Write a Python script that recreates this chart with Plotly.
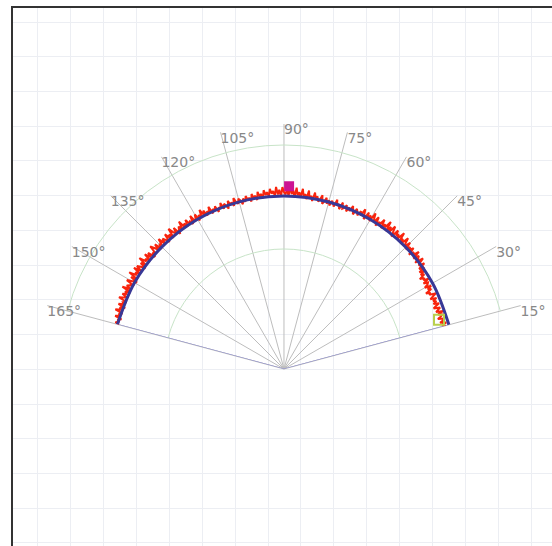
import numpy as np
import plotly.graph_objects as go

# --- data -------------------------------------------------------------
# noisy measured radius, sampled every 0.5 degree from 15 to 165
noisy_r = [
    0.728, 0.712, 0.735, 0.706, 0.722, 0.731, 0.701, 0.719, 0.727, 0.709, 0.738, 0.704, 0.716, 0.730, 0.699, 0.714, 0.733, 0.707, 0.725, 0.711,
    0.732, 0.703, 0.720, 0.739, 0.708, 0.717, 0.696, 0.729, 0.713, 0.736, 0.705, 0.724, 0.731, 0.710, 0.742, 0.718, 0.727, 0.706, 0.737, 0.721,
    0.745, 0.723, 0.756, 0.731, 0.768, 0.740, 0.752, 0.777, 0.735, 0.760, 0.769, 0.741, 0.782, 0.750, 0.763, 0.738, 0.775, 0.754, 0.766, 0.744,
    0.781, 0.752, 0.764, 0.790, 0.746, 0.770, 0.758, 0.795, 0.749, 0.773, 0.761, 0.786, 0.743, 0.767, 0.792, 0.755, 0.778, 0.747, 0.797, 0.760,
    0.772, 0.745, 0.788, 0.757, 0.766, 0.741, 0.783, 0.753, 0.764, 0.791, 0.744, 0.771, 0.750, 0.779, 0.739, 0.759, 0.785, 0.748, 0.768, 0.742,
    0.758, 0.769, 0.737, 0.756, 0.774, 0.745, 0.761, 0.738, 0.767, 0.750, 0.743, 0.772, 0.736, 0.759, 0.748, 0.776, 0.740, 0.754, 0.764, 0.739,
    0.763, 0.744, 0.771, 0.750, 0.738, 0.779, 0.756, 0.745, 0.768, 0.758, 0.784, 0.742, 0.766, 0.752, 0.789, 0.747, 0.770, 0.757, 0.794, 0.751,
    0.776, 0.760, 0.797, 0.750, 0.783, 0.765, 0.801, 0.755, 0.789, 0.762, 0.774, 0.798, 0.752, 0.785, 0.763, 0.799, 0.757, 0.780, 0.768, 0.792,
    0.756, 0.777, 0.764, 0.788, 0.750, 0.772, 0.759, 0.784, 0.746, 0.768, 0.757, 0.779, 0.743, 0.763, 0.754, 0.775, 0.748, 0.766, 0.740, 0.760,
    0.771, 0.747, 0.758, 0.780, 0.743, 0.763, 0.752, 0.776, 0.739, 0.757, 0.768, 0.746, 0.778, 0.751, 0.761, 0.741, 0.773, 0.755, 0.765, 0.745,
    0.783, 0.753, 0.767, 0.747, 0.777, 0.758, 0.789, 0.750, 0.770, 0.744, 0.781, 0.759, 0.752, 0.786, 0.746, 0.764, 0.757, 0.782, 0.749, 0.771,
    0.758, 0.793, 0.751, 0.775, 0.762, 0.742, 0.784, 0.756, 0.768, 0.796, 0.748, 0.773, 0.759, 0.787, 0.745, 0.765, 0.779, 0.752, 0.791, 0.761,
    0.771, 0.748, 0.785, 0.757, 0.776, 0.795, 0.753, 0.767, 0.744, 0.782, 0.760, 0.790, 0.750, 0.774, 0.763, 0.799, 0.755, 0.780, 0.746, 0.769,
    0.786, 0.757, 0.793, 0.751, 0.775, 0.763, 0.800, 0.754, 0.781, 0.743, 0.770, 0.791, 0.748, 0.766, 0.779, 0.756, 0.795, 0.747, 0.773, 0.760,
    0.780, 0.752, 0.768, 0.788, 0.745, 0.762, 0.755, 0.778, 0.741, 0.766, 0.757, 0.783, 0.744, 0.761, 0.750, 0.774, 0.740, 0.758, 0.747, 0.764,
    0.745,
]
noisy_theta = np.linspace(15, 165, len(noisy_r))

# smoothed fit, every 15 degrees
fit_theta = [15, 30, 45, 60, 75, 90, 105, 120, 135, 150, 165]
fit_r = [0.744, 0.748, 0.751, 0.753, 0.754, 0.755, 0.755, 0.754, 0.753, 0.753, 0.752]

# highlighted points
peak_theta, peak_r = [88.4], [0.802]
low_theta, low_r = [17.6], [0.705]

angle_ticks = [15, 30, 45, 60, 75, 90, 105, 120, 135, 150, 165]
angle_labels = [f"{a}°" for a in angle_ticks]

RADIAL_RANGE = [-0.077, 1.101]
RADIAL_GRID = [0.5, 1.0]

fig = go.Figure()

# empty cartesian trace so the background grid paper is drawn
fig.add_trace(go.Scatter(x=[], y=[], showlegend=False, hoverinfo="skip"))

# radial edges joining the fit to the origin
fig.add_trace(go.Scatterpolar(
    r=[fit_r[0], RADIAL_RANGE[0], fit_r[-1]],
    theta=[fit_theta[0], fit_theta[0], fit_theta[-1]],
    mode="lines", line=dict(color="#8c8cd2", width=1),
    showlegend=False, hoverinfo="skip",
))

fig.add_trace(go.Scatterpolar(
    r=noisy_r, theta=noisy_theta, mode="lines",
    line=dict(color="#f8240d", width=2),
    showlegend=False,
))

fig.add_trace(go.Scatterpolar(
    r=fit_r, theta=fit_theta, mode="lines",
    line=dict(color="#383896", width=3, shape="spline"),
    showlegend=False,
))

fig.add_trace(go.Scatterpolar(
    r=peak_r, theta=peak_theta, mode="markers",
    marker=dict(symbol="square", size=10, color="#cc1493"),
    showlegend=False,
))
fig.add_trace(go.Scatterpolar(
    r=low_r, theta=low_theta, mode="markers",
    marker=dict(symbol="square-open", size=10, color="#b9cf4c",
                line=dict(width=2)),
    showlegend=False,
))

# angle labels placed at the outer end of each spoke
fig.add_trace(go.Scatterpolar(
    r=[RADIAL_RANGE[1]] * len(angle_ticks), theta=angle_ticks,
    mode="text", text=angle_labels, textposition="bottom right",
    textfont=dict(family="DejaVu Sans", size=14, color="#888888"),
    cliponaxis=False, showlegend=False, hoverinfo="skip",
))

fig.update_layout(
    width=552, height=546,
    margin=dict(l=13, r=0, t=8, b=0),
    paper_bgcolor="white", plot_bgcolor="white",
    xaxis=dict(range=[0.249, 16.632], dtick=1, showgrid=True,
               gridcolor="#eceef3", gridwidth=1, zeroline=False,
               showticklabels=False, ticks="", side="top",
               showline=True, linecolor="#333333", linewidth=2),
    yaxis=dict(range=[-0.088, 15.403], dtick=1, showgrid=True,
               gridcolor="#eceef3", gridwidth=1, zeroline=False,
               showticklabels=False, ticks="",
               showline=True, linecolor="#333333", linewidth=2),
    polar=dict(
        domain=dict(x=[0.0636, 0.9419], y=[0.3290, 0.7844]),
        sector=[15, 165],
        bgcolor="rgba(0,0,0,0)",
        radialaxis=dict(range=RADIAL_RANGE, tickvals=RADIAL_GRID,
                        showticklabels=False, ticks="", showline=False,
                        gridcolor="#c8e4c8", gridwidth=1),
        angularaxis=dict(tickvals=angle_ticks, showticklabels=False,
                         ticks="", showline=False,
                         gridcolor="#bdbdbd", gridwidth=1),
    ),
)

fig.write_html("out.html")
